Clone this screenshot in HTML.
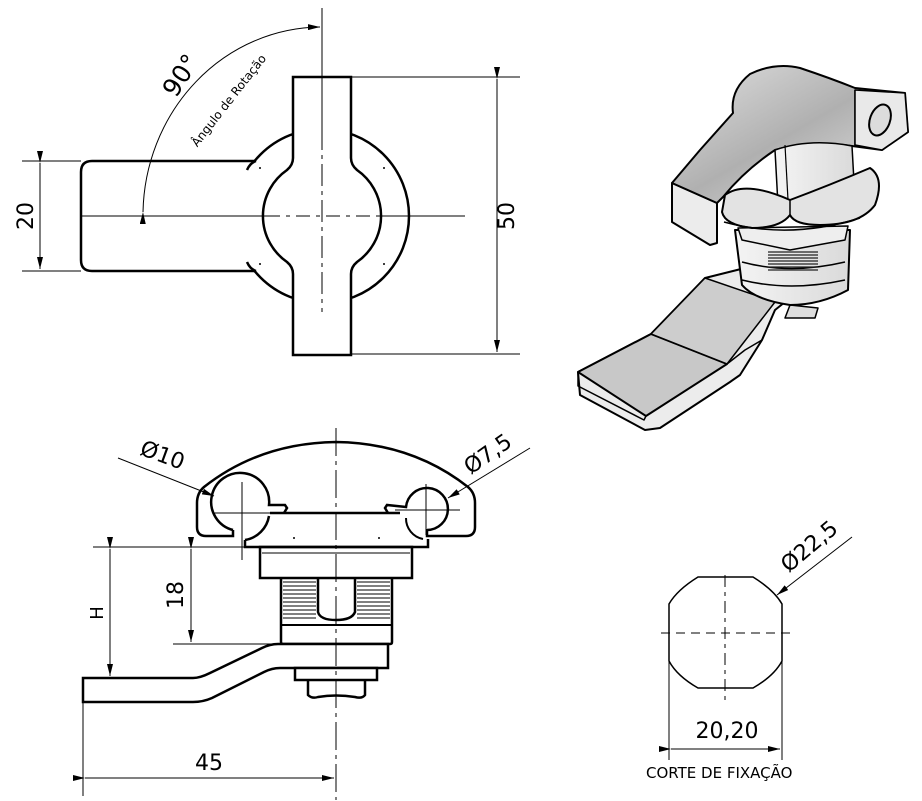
<!DOCTYPE html>
<html><head><meta charset="utf-8"><style>
html,body{margin:0;padding:0;background:#fff;}
svg{display:block;}
text{font-family:"DejaVu Sans","Liberation Sans",sans-serif;fill:#000;}
</style></head><body>
<svg width="922" height="801" viewBox="0 0 922 801" xmlns="http://www.w3.org/2000/svg">
<defs>
<marker id="ar" viewBox="0 0 12 6" refX="12" refY="3" markerWidth="12" markerHeight="6" orient="auto" markerUnits="userSpaceOnUse"><path d="M0,0 L12,3 L0,6 Z" fill="#000"/></marker>
<linearGradient id="g1" x1="0" y1="0" x2="1" y2="1"><stop offset="0" stop-color="#e0e0e0"/><stop offset="0.5" stop-color="#b0b0b0"/><stop offset="1" stop-color="#e8e8e8"/></linearGradient>
<linearGradient id="g2" x1="0" y1="0" x2="1" y2="0"><stop offset="0" stop-color="#f4f4f4"/><stop offset="1" stop-color="#dadada"/></linearGradient>
</defs>

<!-- ============ TOP VIEW ============ -->
<g fill="none" stroke="#000">
  <circle cx="322" cy="216" r="87" stroke-width="2.5" fill="#fff"/>
  <path d="M256,161 L92,161 Q81,161 81,172 L81,260 Q81,271 92,271 L256,271" stroke-width="2.5" fill="#fff"/>
  <path d="M256,161 Q250,163 247,170 M247,262 Q250,269 256,271" stroke-width="2.5"/>
  <path d="M293,77 L351,77 L351,158 Q351,165 357,170 A56,56 0 0 1 357,262 Q351,267 351,274 L351,355 L293,355 L293,274 Q293,267 287,262 A56,56 0 0 1 287,170 Q293,165 293,158 Z" stroke-width="2.5" fill="#fff"/>
  <line x1="322" y1="8" x2="322" y2="128" stroke-width="1"/>
  <line x1="322" y1="128" x2="322" y2="312" stroke-width="1" stroke-dasharray="22,5,4,5"/>
  <line x1="81" y1="216" x2="266" y2="216" stroke-width="1"/>
  <line x1="266" y1="216" x2="378" y2="216" stroke-width="1" stroke-dasharray="14,6,4,6"/>
  <line x1="378" y1="216" x2="465" y2="216" stroke-width="1"/>
  <line x1="22" y1="161" x2="81" y2="161" stroke-width="1"/>
  <line x1="22" y1="271" x2="81" y2="271" stroke-width="1"/>
  <line x1="40" y1="163" x2="40" y2="269" stroke-width="1" marker-start="url(#ar)" marker-end="url(#ar)"/>
  <line x1="351" y1="77" x2="520" y2="77" stroke-width="1"/>
  <line x1="351" y1="354" x2="520" y2="354" stroke-width="1"/>
  <line x1="497" y1="79" x2="497" y2="352" stroke-width="1" marker-start="url(#ar)" marker-end="url(#ar)"/>
  <path d="M143,212 A179,189 0 0 1 320,27" stroke-width="1" marker-start="url(#ar)" marker-end="url(#ar)"/>
</g>
<g fill="#000"><circle cx="260" cy="168" r="1"/><circle cx="384" cy="168" r="1"/><circle cx="260" cy="264" r="1"/><circle cx="384" cy="264" r="1"/></g>
<text x="0" y="0" font-size="22" transform="translate(33,216) rotate(-90)" text-anchor="middle">20</text>
<text x="0" y="0" font-size="22" transform="translate(514,216) rotate(-90)" text-anchor="middle">50</text>
<text x="0" y="0" font-size="25" transform="translate(188,80) rotate(-57)" text-anchor="middle">90°</text>
<text x="0" y="0" font-size="12" transform="translate(232,103) rotate(-52)" text-anchor="middle">Ângulo de Rotação</text>

<!-- ============ SIDE VIEW ============ -->
<g fill="none" stroke="#000">
  <path d="M214,536 L206,536 Q197,536 197,527 L197,503 Q197,493 204,487 Q260,443 336,442 Q412,443 468,487 Q475,493 475,503 L475,527 Q475,536 466,536 L427,536 L427,529" stroke-width="2.5"/>
  <path d="M214,536 L233,536 L233,530" stroke-width="2.5"/>
  <path d="M233,530 A29,29 0 1 1 269,505 L285,505 L287,508 L284,513" stroke-width="2.5"/>
  <path d="M269,516 A29,29 0 0 1 245,540" stroke-width="2.5"/>
  <path d="M427,530 A21,21 0 1 0 406,507 L387,505 L385,508 L388,513" stroke-width="2.5"/>
  <path d="M406,518 A21,21 0 0 0 423,539" stroke-width="2"/>
  <path d="M270,513 L400,513" stroke-width="2.5"/>
  <path d="M245,540 L245,547 L428,547 L428,539" stroke-width="2.5"/>
  <rect x="260" y="547" width="152" height="31" stroke-width="2.5"/>
  <line x1="262" y1="553" x2="410" y2="553" stroke-width="1"/>
  <path d="M281,578 L281,642 Q281,644 283,644 L390,644 Q392,644 392,642 L392,578" stroke-width="2.5"/>
  <path d="M318,578 L318,612 Q320,620 336,620 Q352,620 355,612 L355,578" stroke-width="2.5"/>
  <line x1="281" y1="625" x2="392" y2="625" stroke-width="2"/>
  <path d="M83,678 L193,678 Q200,678 210,673 L262,648 Q270,644 278,644 L388,644 L388,668 L280,668 Q272,668 264,672 L212,698 Q203,702 193,702 L83,702 Z" stroke-width="2.5" fill="#fff"/>
  <rect x="295" y="668" width="82" height="12" stroke-width="2.5" fill="#fff"/>
  <path d="M308,680 L308,695 Q312,699 318,697 Q336,694 355,697 Q362,699 365,695 L365,680" stroke-width="2.5"/>
  <line x1="336" y1="428" x2="336" y2="800" stroke-width="1" stroke-dasharray="28,5,4,5"/>
  <line x1="242" y1="482" x2="242" y2="560" stroke-width="1"/>
  <line x1="214" y1="513" x2="290" y2="513" stroke-width="1"/>
  <line x1="426" y1="484" x2="426" y2="535" stroke-width="1"/>
  <line x1="395" y1="510" x2="460" y2="510" stroke-width="1"/>
  <line x1="118" y1="458" x2="214" y2="496" stroke-width="1" marker-end="url(#ar)"/>
  <line x1="530" y1="448" x2="448" y2="498" stroke-width="1" marker-end="url(#ar)"/>
  <line x1="93" y1="547" x2="245" y2="547" stroke-width="1"/>
  <line x1="173" y1="644" x2="281" y2="644" stroke-width="1"/>
  <line x1="110" y1="549" x2="110" y2="676" stroke-width="1" marker-start="url(#ar)" marker-end="url(#ar)"/>
  <line x1="191" y1="549" x2="191" y2="642" stroke-width="1" marker-start="url(#ar)" marker-end="url(#ar)"/>
  <line x1="83" y1="702" x2="83" y2="796" stroke-width="1"/>
  <line x1="85" y1="778" x2="334" y2="778" stroke-width="1" marker-start="url(#ar)" marker-end="url(#ar)"/>
</g>
<g stroke="#000" stroke-width="1">
  <line x1="283" y1="582" x2="316" y2="582"/><line x1="283" y1="586" x2="316" y2="586"/><line x1="283" y1="590" x2="316" y2="590"/><line x1="283" y1="594" x2="316" y2="594"/><line x1="283" y1="598" x2="316" y2="598"/><line x1="283" y1="602" x2="316" y2="602"/><line x1="283" y1="606" x2="316" y2="606"/><line x1="283" y1="610" x2="316" y2="610"/><line x1="283" y1="614" x2="316" y2="614"/><line x1="283" y1="618" x2="316" y2="618"/>
  <line x1="357" y1="582" x2="390" y2="582"/><line x1="357" y1="586" x2="390" y2="586"/><line x1="357" y1="590" x2="390" y2="590"/><line x1="357" y1="594" x2="390" y2="594"/><line x1="357" y1="598" x2="390" y2="598"/><line x1="357" y1="602" x2="390" y2="602"/><line x1="357" y1="606" x2="390" y2="606"/><line x1="357" y1="610" x2="390" y2="610"/><line x1="357" y1="614" x2="390" y2="614"/><line x1="357" y1="618" x2="390" y2="618"/>
</g>
<g fill="#000"><circle cx="294" cy="538" r="1"/><circle cx="379" cy="538" r="1"/></g>
<text x="0" y="0" font-size="22" transform="translate(160,462) rotate(20)" text-anchor="middle">Ø10</text>
<text x="0" y="0" font-size="22" transform="translate(492,460) rotate(-35)" text-anchor="middle">Ø7,5</text>
<text x="0" y="0" font-size="18" transform="translate(103,613) rotate(-90)" text-anchor="middle">H</text>
<text x="0" y="0" font-size="22" transform="translate(183,595) rotate(-90)" text-anchor="middle">18</text>
<text x="209" y="770" font-size="22" text-anchor="middle">45</text>

<!-- ============ CORTE DE FIXAÇÃO ============ -->
<g fill="none" stroke="#000">
  <path d="M698,577 L753,577 Q774,590 782,604 L782,661 Q774,676 753,688 L698,688 Q677,676 669,661 L669,604 Q677,590 698,577 Z" stroke-width="1.5"/>
  <line x1="661" y1="633" x2="796" y2="633" stroke-width="1" stroke-dasharray="9,6"/>
  <line x1="725" y1="575" x2="725" y2="700" stroke-width="1" stroke-dasharray="12,5,4,5"/>
  <line x1="669" y1="661" x2="669" y2="760" stroke-width="1"/>
  <line x1="782" y1="661" x2="782" y2="760" stroke-width="1"/>
  <line x1="671" y1="749" x2="780" y2="749" stroke-width="1" marker-start="url(#ar)" marker-end="url(#ar)"/>
  <line x1="852" y1="537" x2="777" y2="595" stroke-width="1" marker-end="url(#ar)"/>
</g>
<text x="727" y="738" font-size="22" text-anchor="middle">20,20</text>
<text x="646" y="778" font-size="15">CORTE DE FIXAÇÃO</text>
<text x="0" y="0" font-size="22" transform="translate(814,552) rotate(-40)" text-anchor="middle">Ø22,5</text>

<!-- ============ ISOMETRIC ============ -->
<g stroke="#000" stroke-width="2" stroke-linejoin="round">
  <!-- lever -->
  <path d="M578,372 L651,334 L705,278 L745,268 L790,298 L775,310 L762,340 L740,375 L730,382 L660,428 L645,430 L580,395 Z" fill="#ececec"/>
  <path d="M578,372 L651,334 L727,364 L646,416 Z" fill="#c8c8c8"/>
  <path d="M651,334 L705,278 L775,302 L727,364 Z" fill="#cdcdcd" stroke-width="1.5"/>
  <path d="M578,372 L578,386 L644,420 L646,416" fill="none" stroke-width="1.5"/>
  <path d="M727,364 L745,350 L762,340" fill="none" stroke-width="1.5"/>
  <path d="M785,318 L815,318 L818,308 L790,305 Z" fill="#ddd" stroke-width="1.5"/>
  <!-- lower body -->
  <path d="M735,230 L850,230 L848,290 Q820,305 790,305 Q755,300 742,285 Z" fill="url(#g2)"/>
  <path d="M742,262 Q790,275 845,262" fill="none" stroke-width="1.5"/>
  <path d="M742,280 Q790,292 845,280" fill="none" stroke-width="1.5"/>
  <g stroke-width="1.2" stroke="#222">
    <line x1="768" y1="252" x2="818" y2="252"/><line x1="768" y1="255" x2="818" y2="255"/><line x1="768" y1="258" x2="818" y2="258"/><line x1="768" y1="261" x2="818" y2="261"/><line x1="768" y1="264" x2="818" y2="264"/><line x1="768" y1="267" x2="818" y2="267"/><line x1="768" y1="270" x2="818" y2="270"/>
  </g>
  <path d="M738,228 L848,226 L845,240 L790,250 L742,240 Z" fill="#eee" stroke-width="1.5"/>
  <!-- handle front block -->
  <path d="M672,183 L717,203 L717,243 L710,245 L672,222 Z" fill="#ececec"/>
  <!-- handle top -->
  <path d="M672,183 L700,150 L733,113 Q730,90 750,74 Q775,62 800,68 Q830,78 855,88 L905,93 L908,132 L882,150 L852,146 Q810,140 775,150 Q745,170 723,197 L717,203 Z" fill="url(#g1)"/>
  <path d="M855,90 L855,145 L882,150" fill="#e6e6e6" stroke-width="1.5"/>
  <path d="M855,90 L905,93 L908,132 L882,150 L855,145 Z" fill="#e9e9e9" stroke-width="1.5"/>
  <ellipse cx="880" cy="120" rx="10" ry="16" fill="#dcdcdc" transform="rotate(20 880 120)"/>
  <!-- cylinder -->
  <path d="M775,150 Q810,138 852,146 L855,200 Q820,215 778,205 Z" fill="url(#g2)" stroke-width="1.5"/>
  <line x1="785" y1="145" x2="788" y2="200" stroke-width="1.2"/>
  <!-- knob wings -->
  <path d="M725,195 Q745,180 790,200 Q830,185 870,168 Q885,178 875,205 Q860,225 820,225 Q795,225 790,215 Q780,228 752,228 Q725,225 722,212 Z" fill="#e3e3e3"/>
  <path d="M790,200 L790,215" fill="none" stroke-width="1.5"/>
  <path d="M724,222 Q790,240 860,218" fill="none" stroke-width="1.5"/>
</g>
</svg>
</body></html>
